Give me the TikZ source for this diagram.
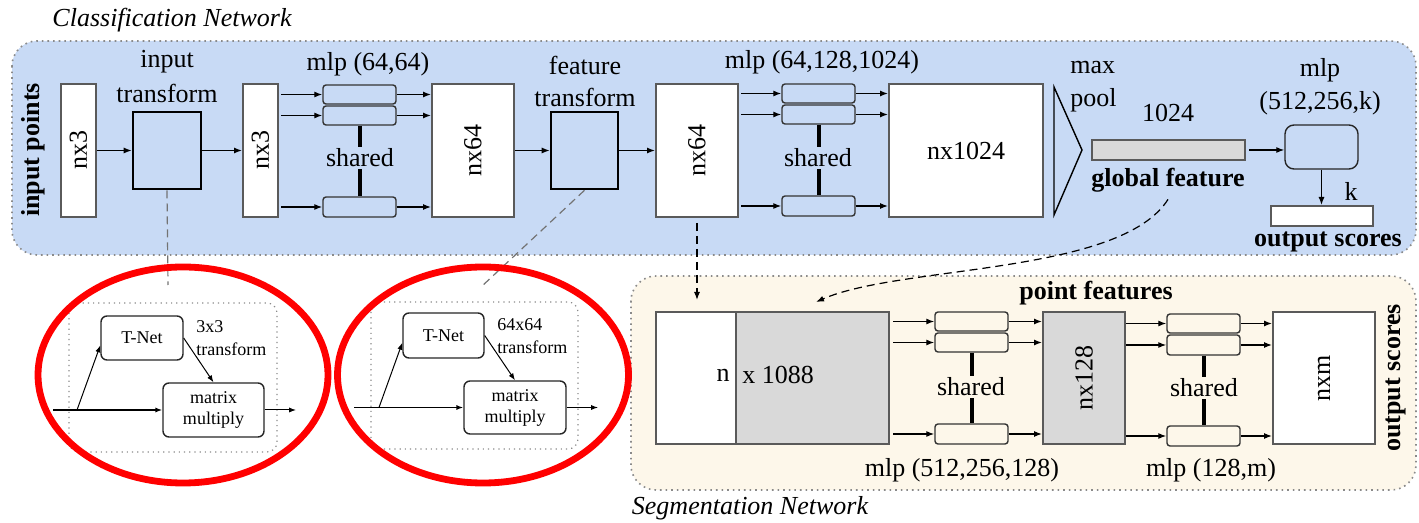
\documentclass[tikz,border=0pt]{standalone}
\usepackage{fontspec}
\setmainfont{Liberation Serif}
\usetikzlibrary{arrows.meta,calc}
\definecolor{cblue}{HTML}{C8DAF5}
\definecolor{ccream}{HTML}{FDF7EA}
\definecolor{cgray}{HTML}{D9D9D9}
\definecolor{cborder}{HTML}{5A5A5A}
\definecolor{cdot}{HTML}{8A8A8A}
\tikzset{
  region/.style={draw=cdot, dotted, line width=0.8pt, rounded corners=12.5pt},
  inregion/.style={draw=cdot, dotted, line width=0.6pt, rounded corners=5pt},
  wbox/.style={draw=cborder, fill=white, line width=1pt, inner sep=0pt},
  gbox/.style={draw=cborder, fill=cgray, line width=1pt, inner sep=0pt},
  tbox/.style={draw=black, fill=cblue, line width=1.3pt, inner sep=0pt},
  mbox/.style={draw=black!80, rounded corners=1.5pt, line width=0.7pt, inner sep=0pt},
  tnbox/.style={draw=black!85, fill=white, rounded corners=3pt, line width=0.7pt, inner sep=0pt, font=\fontsize{9}{10.5}\selectfont, align=center},
  arr/.style={-{Latex[length=4pt,width=3pt]}, line width=0.6pt},
  sarr/.style={-{Latex[length=3.5pt,width=2.6pt]}, line width=0.5pt},
  sharedln/.style={line width=2pt},
  txt/.style={font=\fontsize{13}{15}\selectfont, inner sep=0pt},
  btxt/.style={font=\fontsize{13}{15}\selectfont\bfseries, inner sep=0pt},
  itxt/.style={font=\fontsize{13}{15}\selectfont\itshape, inner sep=0pt},
  stxt/.style={font=\fontsize{9}{10.5}\selectfont, inner sep=0pt},
  ring/.style={draw=red, line width=3.4pt},
  gdash/.style={draw=black!55, dash pattern=on 4pt off 2.5pt, line width=0.6pt},
  kdash/.style={draw=black, dash pattern=on 4pt off 2.5pt, line width=0.6pt},
}
\begin{document}
\begin{tikzpicture}[x=0.5pt,y=-0.5pt]
\useasboundingbox (0,0) rectangle (1419,523);
% ---------------- regions
\draw[region, fill=cblue] (12,41) rectangle (1416,255);
\draw[region, fill=ccream] (631,276) rectangle (1416,490);
\node[itxt] (tcls) at (172,20) {Classification Network};
\node[itxt] (tseg) at (750,508) {Segmentation Network};

% ---------------- classification network
\node[btxt, rotate=90] (tin) at (33,150) {input points};
\node[wbox, minimum width=17.5pt, minimum height=66.5pt] (n1) at (78.5,150.5) {};
\node[txt, rotate=90] (tn1) at (n1) {nx3};
\node[tbox, minimum width=34pt, minimum height=38.5pt] (itf) at (167,150.5) {};
\node[txt] (titf1) at (167,62) {input};
\node[txt] (titf2) at (167,93) {transform};
\node[wbox, minimum width=17.5pt, minimum height=66.5pt] (n2) at (260.5,150.5) {};
\node[txt, rotate=90] (tn2) at (n2) {nx3};
\draw[arr] (n1.east) -- (itf.west);
\draw[arr] (itf.east) -- (n2.west);

\node[mbox, fill=cblue, minimum width=36.5pt, minimum height=9.5pt] (m1a) at (359.5,94.5) {};
\node[mbox, fill=cblue, minimum width=36.5pt, minimum height=9.5pt] (m1b) at (359.5,115.5) {};
\node[mbox, fill=cblue, minimum width=36.5pt, minimum height=10pt] (m1c) at (359.5,207) {};
\node[txt] (tm1) at (368,64) {mlp (64,64)};
\draw[sharedln] (m1b.south) -- (m1c.north);
\node[txt, fill=cblue, inner sep=1pt] (sh1) at (360,158) {shared};
\node[wbox, minimum width=41pt, minimum height=66.5pt] (n64a) at (473,150.5) {};
\node[txt, rotate=90] (tn64a) at (n64a) {nx64};
\foreach \b in {m1a,m1b,m1c}{
  \draw[arr] ($(n2.east |- \b.west)+(2,0)$) -- (\b.west);
  \draw[arr] (\b.east) -- (\b.east -| n64a.west);
}

\node[tbox, minimum width=33.5pt, minimum height=38.5pt] (ftf) at (584.5,150.5) {};
\node[txt] (tftf1) at (585,65) {feature};
\node[txt] (tftf2) at (585,97) {transform};
\node[wbox, minimum width=41pt, minimum height=66.5pt] (n64b) at (697,150.5) {};
\node[txt, rotate=90] (tn64b) at (n64b) {nx64};
\draw[arr] (n64a.east) -- (ftf.west);
\draw[arr] (ftf.east) -- (n64b.west);

\node[mbox, fill=cblue, minimum width=36.5pt, minimum height=9.5pt] (m2a) at (818.5,93.5) {};
\node[mbox, fill=cblue, minimum width=36.5pt, minimum height=9.5pt] (m2b) at (818.5,114.5) {};
\node[mbox, fill=cblue, minimum width=36.5pt, minimum height=10pt] (m2c) at (818.5,206) {};
\node[txt] (tm2) at (822,62) {mlp (64,128,1024)};
\draw[sharedln] (m2b.south) -- (m2c.north);
\node[txt, fill=cblue, inner sep=1pt] (sh2) at (818,158) {shared};
\node[wbox, minimum width=77pt, minimum height=66.5pt] (n1024) at (966,150.5) {};
\node[txt] (tn1024) at (n1024) {nx1024};
\foreach \b in {m2a,m2b,m2c}{
  \draw[arr] ($(n64b.east |- \b.west)+(2,0)$) -- (\b.west);
  \draw[arr] (\b.east) -- (\b.east -| n1024.west);
}

% max pool
\draw[line width=0.7pt, line join=miter] (1054,87) -- (1082,150) -- (1054,215) -- cycle;
\node[txt, anchor=west] (tmax) at (1070,68) {max};
\node[txt, anchor=west] (tpool) at (1070,100) {pool};
\node[txt] (t1024) at (1168,113) {1024};
\node[gbox, minimum width=76.5pt, minimum height=10pt] (gf) at (1168.5,150) {};
\node[btxt] (tgf) at (1168,180) {global feature};
\node[mbox, draw=black!85, fill=cblue, rounded corners=4.5pt, minimum width=36.5pt, minimum height=22pt] (cmlp) at (1321.5,147) {};
\node[txt] (tcm1) at (1320,70) {mlp};
\node[txt] (tcm2) at (1320,103) {(512,256,k)};
\node[wbox, minimum width=51pt, minimum height=10pt] (out) at (1322,216) {};
\node[txt] (tk) at (1351,191) {k};
\node[btxt] (tout) at (1328,242) {output scores};
\draw[arr] ($(gf.east)+(3,0)$) -- (gf.east -| cmlp.west);
\draw[arr] (cmlp.south) -- (cmlp.south |- out.north);

% ---------------- segmentation network
\node[btxt] (tpf) at (1096,293) {point features};
\node[wbox, minimum width=40pt, minimum height=66pt] (bigw) at (696,378) {};
\node[gbox, minimum width=76.5pt, minimum height=66pt] (bigg) at (812.5,378) {};
\node[txt, anchor=east] (tnn) at (730,375) {n};
\node[txt, anchor=west] (tx1088) at (742,375) {x 1088};

\node[mbox, fill=ccream, minimum width=36.5pt, minimum height=9.5pt] (s1a) at (971.5,321.5) {};
\node[mbox, fill=ccream, minimum width=36.5pt, minimum height=9.5pt] (s1b) at (971.5,342.5) {};
\node[mbox, fill=ccream, minimum width=36.5pt, minimum height=10pt] (s1c) at (971.5,434) {};
\draw[sharedln] (s1b.south) -- (s1c.north);
\node[txt, fill=ccream, inner sep=1pt] (sh3) at (971,387) {shared};
\node[gbox, minimum width=41pt, minimum height=66pt] (n128) at (1084,378) {};
\node[txt, rotate=90] (tn128) at (n128) {nx128};
\foreach \b in {s1a,s1b,s1c}{
  \draw[arr] ($(bigg.east |- \b.west)+(3,0)$) -- (\b.west);
  \draw[arr] (\b.east) -- (\b.east -| n128.west);
}
\node[mbox, fill=ccream, minimum width=36.5pt, minimum height=9.5pt] (s2a) at (1203.5,323.5) {};
\node[mbox, fill=ccream, minimum width=36.5pt, minimum height=10pt] (s2b) at (1203.5,345) {};
\node[mbox, fill=ccream, minimum width=36.5pt, minimum height=10pt] (s2c) at (1203.5,436) {};
\draw[sharedln] (s2b.south) -- (s2c.north);
\node[txt, fill=ccream, inner sep=1pt] (sh4) at (1204,388) {shared};
\node[wbox, minimum width=51pt, minimum height=66pt] (nxm) at (1324,378) {};
\node[txt, rotate=90] (tnxm) at (nxm) {nxm};
\foreach \b in {s2a,s2b,s2c}{
  \draw[arr] (n128.east |- \b.west) -- (\b.west);
  \draw[arr] (\b.east) -- (\b.east -| nxm.west);
}
\node[btxt, rotate=90] (tout2) at (1396,378) {output scores};
\node[txt] (tms1) at (962,470) {mlp (512,256,128)};
\node[txt] (tms2) at (1211,470) {mlp (128,m)};

% ---------------- connectors between networks
\coordinate (e1) at (168,285);
\coordinate (e2) at (481,287);
\coordinate (e3) at (697,300);
\coordinate (e4) at (816,302);
\draw[gdash] (itf.south) -- (e1);
\draw[gdash] (ftf.south) -- (e2);
\draw[kdash, -{Latex[length=4pt,width=3pt]}] ($(n64b.south)+(0,5)$) -- (e3);
\draw[kdash, -{Latex[length=4pt,width=3pt]}] ($(tgf.south)+(0,7)$) .. controls (1120,275) and (900,265) .. (e4);

% ---------------- T-Net details (left)
\draw[inregion] (69,303) rectangle (277,452);
\node[tnbox, minimum width=41pt, minimum height=22pt] (tnA) at (142,338) {T-Net};
\node[tnbox, minimum width=50.5pt, minimum height=27pt] (mmA) at (213.5,410) {matrix\\multiply};
\node[stxt, anchor=west] (tA1) at (196,327) {3x3};
\node[stxt, anchor=west] (tA2) at (196,349) {transform};
\coordinate (inA) at (53,410);
\coordinate (brA) at (77,410);
\coordinate (outA) at (296,410);
\draw[sarr, line width=0.9pt] (inA) -- (mmA.west);
\draw[sarr] (brA) -- (tnA.190);
\draw[sarr] (tnA.east) -- (mmA.north);
\draw[sarr] (mmA.east) -- (outA);
\draw[ring] (183,375) ellipse [x radius=72.5pt, y radius=54pt];

% ---------------- T-Net details (right)
\draw[inregion] (371,302) rectangle (578,449);
\node[tnbox, minimum width=40.5pt, minimum height=22.5pt] (tnB) at (443.5,335.5) {T-Net};
\node[tnbox, minimum width=51pt, minimum height=26.5pt] (mmB) at (515,407.5) {matrix\\multiply};
\node[stxt, anchor=west] (tB1) at (497,325) {64x64};
\node[stxt, anchor=west] (tB2) at (497,347) {transform};
\coordinate (inB) at (354,407.5);
\coordinate (brB) at (379,407.5);
\coordinate (outB) at (598,407.5);
\draw[sarr, line width=0.9pt] (inB) -- (mmB.west);
\draw[sarr] (brB) -- (tnB.190);
\draw[sarr] (tnB.east) -- (mmB.north);
\draw[sarr] (mmB.east) -- (outB);
\draw[ring] (483,375) ellipse [x radius=72.75pt, y radius=54pt];
\end{tikzpicture}
\end{document}
